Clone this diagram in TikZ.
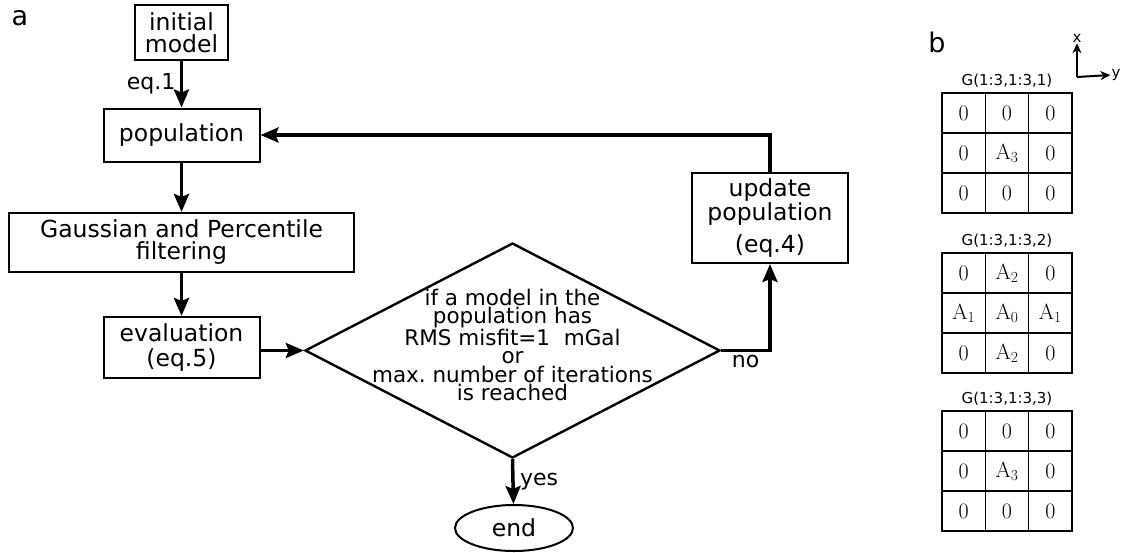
\documentclass[tikz,border=0pt]{standalone}
\usepackage[no-math]{fontspec}
\setmainfont{DejaVu Sans}
\newfontfamily\cellfont{Latin Modern Roman}
\usepackage{tikz}
\usetikzlibrary{positioning,arrows.meta,shapes.geometric}
\tikzset{
  box/.style={draw,line width=2pt,align=center,inner sep=0pt,
             font=\fontsize{23.5}{22}\selectfont},
  decision/.style={draw,diamond,line width=2.4pt,inner sep=0pt},
  stopper/.style={draw,ellipse,line width=2pt,inner sep=0pt,
             font=\fontsize{23.5}{22}\selectfont},
  flow/.style={-{Stealth[length=18pt,width=15pt,inset=3pt]},line width=3.5pt},
  lbl/.style={font=\fontsize{22}{24}\selectfont},
  panel/.style={font=\fontsize{27}{27}\selectfont},
  gtitle/.style={font=\fontsize{15}{16}\selectfont},
  gcell/.style={font=\cellfont\fontsize{22}{22}\selectfont},
  cellline/.style={line width=1.6pt},
  axis/.style={-{Stealth[length=10pt,width=9pt]},line width=2pt},
}
\newcommand{\amp}[1]{A\textsubscript{#1}}

\begin{document}
\begin{tikzpicture}[x=1pt,y=-1pt]
  \useasboundingbox (0,0) rectangle (1124,552);
  % panel a: flow chart
  \node[panel] (lbla) at (20,18) {a};
  \node[box,minimum width=93pt,minimum height=55pt] (init) at (181.5,32.5) {initial\\model};
  \node[box,minimum width=156pt,minimum height=53pt] (pop) at (181.5,135) {population};
  \node[box,minimum width=345pt,minimum height=59pt] (filt) at (181.5,242.5)
        {Gaussian and Percentile\\filtering};
  \node[box,minimum width=156pt,minimum height=61pt] (eval) at (181.5,347.5)
        {evaluation\\[3pt](eq.5)};
  \node[decision,minimum width=415pt,minimum height=215pt] (dec) at (512.5,350.5) {};
  \node[align=center,font=\fontsize{21.5}{18.2}\selectfont] (dectext) at (512.5,345)
        {if a model in the\\population has\\RMS misfit=1\ \ mGal\\or\\max.\ number of iterations\\is reached};
  \node[box,minimum width=156pt,minimum height=90pt] (upd) at (770,218)
        {update\\population\\[9pt](eq.4)};
  \node[stopper,minimum width=118pt,minimum height=46pt] (end) at (514,528) {end};

  \draw[flow] (init) -- node[lbl,left=1pt] {eq.1} (pop);
  \draw[flow] (pop) -- (filt);
  \draw[flow] (filt) -- (eval);
  \draw[flow] (eval.east |- dec.west) -- (dec.west);
  \draw[flow] (dec.east) -| node[lbl,below,pos=0.25] {no} (upd.south);
  \draw[flow] (upd.north) |- (pop.east);
  \draw[flow] (dec.south) -- node[lbl,right=2pt] {yes} (end);

  % panel b: the three G slices
  \node[panel] (lblb) at (937,42) {b};
  \coordinate (ax0) at (1077,77);
  \node[gtitle,inner sep=1pt] (axx) at (1077,38) {x};
  \node[gtitle,inner sep=1pt] (axy) at (1116,75) {y};
  \draw[axis] (ax0) -- (axx.south);
  \draw[axis] (ax0) -- (axy.west);

  \foreach \t/\n/\rows in {93/1/{{0,0,0},{0,\amp3,0},{0,0,0}},
                           253/2/{{0,\amp2,0},{\amp1,\amp0,\amp1},{0,\amp2,0}},
                           411/3/{{0,0,0},{0,\amp3,0},{0,0,0}}} {
    \node[gtitle] (gt\n) at (1007,\t-12) {G(1:3,1:3,\n)};
    \draw[cellline] (942,\t) rectangle ++(130,120);
    \foreach \i in {1,2} {
      \draw[cellline] (942+\i*130/3,\t) -- ++(0,120);
      \draw[cellline] (942,\t+\i*40) -- ++(130,0);
    }
    \foreach \r [count=\j] in \rows {
      \foreach \c [count=\i] in \r {
        \node[gcell] (c\n\j\i) at (942+\i*130/3-65/3,\t+\j*40-20) {\c};
      }
    }
  }
\end{tikzpicture}
\end{document}
